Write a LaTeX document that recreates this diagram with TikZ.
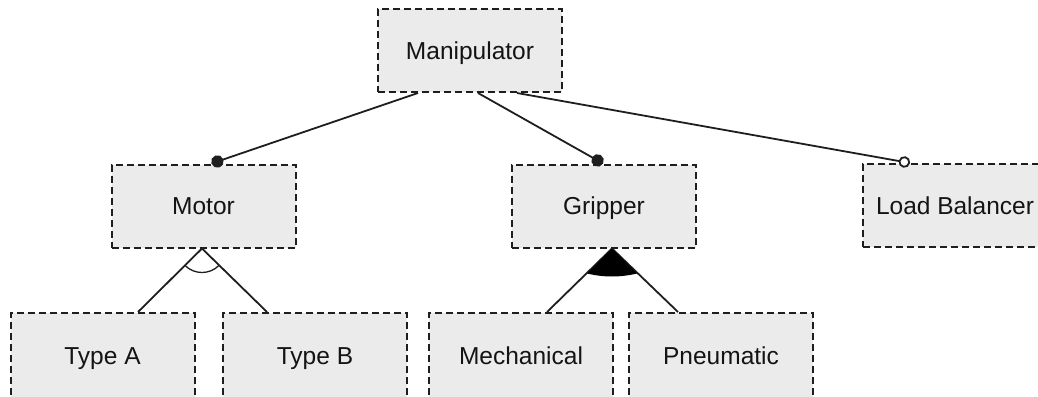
\documentclass[tikz,border=0pt]{standalone}
\usepackage{fontspec}
\setmainfont{Liberation Sans}
\usetikzlibrary{arrows.meta}
\definecolor{featfill}{HTML}{EBEBEB}
\definecolor{featline}{HTML}{1E1E1E}
\definecolor{feattext}{HTML}{141414}
\begin{document}
\begin{tikzpicture}[x=1pt,y=1pt,
  feature/.style={draw=featline, fill=featfill, line width=2pt,
    dash pattern=on 7pt off 4pt, minimum width=184pt, minimum height=83pt,
    inner sep=0pt, text=feattext, font=\fontsize{24.5}{29}\selectfont,
    text height=17.5pt, text depth=0pt},
  leaf/.style={feature, minimum height=85pt},
  link/.style={draw=featline, line width=1.8pt},
  mandatory/.style={link, -{Circle[length=12.5pt,width=12.5pt]}},
  optional/.style={link, -{Circle[open,length=11.5pt,width=11.5pt,fill=white]}}]
\useasboundingbox (0,0) rectangle (1038,-396);

% feature boxes
\node[feature] (manip)  at (470,-50.5)  {Manipulator};
\node[feature] (motor)  at (203.5,-206) {Motor};
\node[feature] (grip)   at (604,-206)   {Gripper};
\node[feature] (load)   at (955,-205.5) {Load Balancer};
\node[leaf]    (typeA)  at (102.5,-355.5) {Type A};
\node[leaf]    (typeB)  at (315,-355.5)   {Type B};
\node[leaf]    (mech)   at (521,-355.5)   {Mechanical};
\node[leaf]    (pneu)   at (721,-355.5)   {Pneumatic};

% mandatory / optional sub-features
\draw[mandatory] ([xshift=-52pt]manip.south) -- ([xshift=8pt]motor.north);
\draw[mandatory] ([xshift=8pt]manip.south)   -- ([xshift=-1pt]grip.north);
\draw[optional]  ([xshift=47pt]manip.south)  -- ([xshift=-45pt]load.north);

% alternative group under Motor
\coordinate (ma) at ([xshift=-1.5pt]motor.south);
\draw[link] ([xshift=35.5pt]typeA.north) -- (ma) -- ([xshift=-48pt]typeB.north);
\draw[link, line width=1.3pt] ([shift={(225:24pt)}]ma) arc[start angle=225, end angle=315, radius=24pt];

% or group under Gripper
\coordinate (ga) at ([xshift=8pt]grip.south);
\draw[link] ([xshift=26pt]mech.north) -- (ga) -- ([xshift=-43pt]pneu.north);
\fill[black] (ga) -- ([shift={(-25pt,-25pt)}]ga)
  .. controls ([shift={(-8pt,-29pt)}]ga) and ([shift={(8pt,-29pt)}]ga)
  .. ([shift={(25pt,-25pt)}]ga) -- cycle;
\end{tikzpicture}
\end{document}
